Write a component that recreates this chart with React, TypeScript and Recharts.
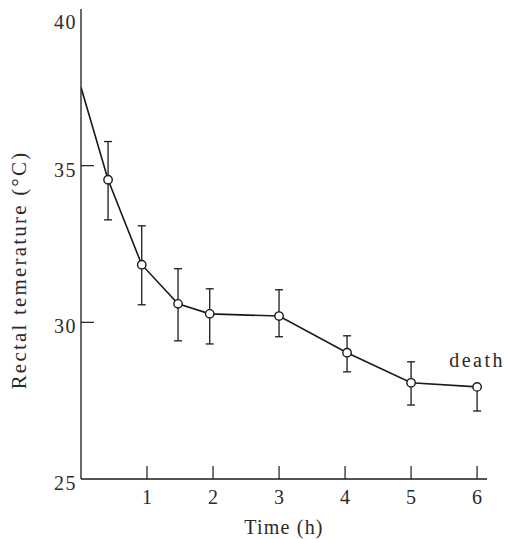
import React from 'react';
import { ComposedChart, Line, XAxis, YAxis, ErrorBar, ReferenceDot } from 'recharts';

// time (h), rectal temperature (°C), error bar [below, above]
const times = [0, 0.41, 0.92, 1.47, 1.95, 3, 4.03, 5, 6];
const temps = [37.5, 34.55, 31.84, 30.59, 30.27, 30.2, 29.03, 28.07, 27.94];
const errBelow = [null, 1.28, 1.28, 1.18, 0.96, 0.66, 0.61, 0.71, 0.77];
const errAbove = [null, 1.22, 1.24, 1.12, 0.8, 0.84, 0.54, 0.67, 0];

const xTicks = [1, 2, 3, 4, 5, 6];
const yTicks = [25, 30, 35, 40];

const data = times.map((t, i) => ({
  t,
  temp: temps[i],
  err: errBelow[i] === null ? null : [errBelow[i], errAbove[i]],
}));

const INK = '#1a1a1a';
const FONT = '"Liberation Serif", "DejaVu Serif", serif';

const XTick = (props: any) => {
  const { x, y, payload } = props;
  return (
    <g>
      <line x1={x} y1={y} x2={x} y2={y - 13} stroke={INK} strokeWidth={1.2} />
      <text x={x} y={y + 25} textAnchor="middle" fontFamily={FONT} fontSize={20} fill="#2a2a2a">
        {payload.value}
      </text>
    </g>
  );
};

const YTick = (props: any) => {
  const { x, y, payload } = props;
  const v = payload.value;
  // the top label sits a little below the axis end in the original
  const shift = v === 40 ? 9 : 0;
  return (
    <g>
      {v !== 25 && v !== 40 && <line x1={x} y1={y} x2={x + 13} y2={y} stroke={INK} strokeWidth={1.2} />}
      <text x={x - 4} y={y + 11 + shift} textAnchor="end" fontFamily={FONT} fontSize={20} letterSpacing={1.5} fill="#2a2a2a">
        {v}
      </text>
    </g>
  );
};

const Dot = (props: any) => {
  const { cx, cy, index } = props;
  if (index === 0) return <g key={`d${index}`} />;
  return <circle key={`d${index}`} cx={cx} cy={cy} r={4.2} fill="#fff" stroke={INK} strokeWidth={1.4} />;
};

const YTitle = () => (
  <text
    x={26}
    y={270}
    transform="rotate(-90, 26, 270)"
    textAnchor="middle"
    fontFamily={FONT}
    fontSize={21}
    letterSpacing={2.2}
    fill="#2a2a2a"
  >
    Rectal temerature (°C)
  </text>
);

export default function App() {
  return (
    <div style={{ position: 'absolute', left: 0, top: 0, width: 505, height: 539, background: '#fff' }}>
      <ComposedChart width={505} height={539} data={data} margin={{ top: 9, right: 18, left: 0, bottom: 0 }}>
        <XAxis
          dataKey="t"
          type="number"
          domain={[0, 6.15]}
          ticks={xTicks}
          allowDataOverflow
          height={60}
          tickSize={0}
          tickMargin={0}
          tick={<XTick />}
          axisLine={{ stroke: INK, strokeWidth: 1.3 }}
          label={{
            value: 'Time (h)',
            position: 'insideBottom',
            offset: 5,
            fontFamily: FONT,
            fontSize: 20,
            letterSpacing: 1.2,
            fill: '#2a2a2a',
          }}
        />
        <YAxis
          type="number"
          domain={[25, 40]}
          ticks={yTicks}
          width={81}
          tickSize={0}
          tickMargin={0}
          tick={<YTick />}
          axisLine={{ stroke: INK, strokeWidth: 1.3 }}
          label={{ content: () => <YTitle /> }}
        />
        <Line
          dataKey="temp"
          type="linear"
          stroke={INK}
          strokeWidth={1.6}
          dot={<Dot />}
          activeDot={false}
          isAnimationActive={false}
        >
          <ErrorBar dataKey="err" direction="y" width={4} stroke={INK} strokeWidth={1.3} isAnimationActive={false} />
        </Line>
        <ReferenceDot
          x={6}
          y={28.8}
          r={0}
          ifOverflow="visible"
          label={{
            value: 'death',
            position: 'center',
            fontFamily: FONT,
            fontSize: 20,
            letterSpacing: 2.5,
            fill: '#2a2a2a',
          }}
        />
      </ComposedChart>
    </div>
  );
}
